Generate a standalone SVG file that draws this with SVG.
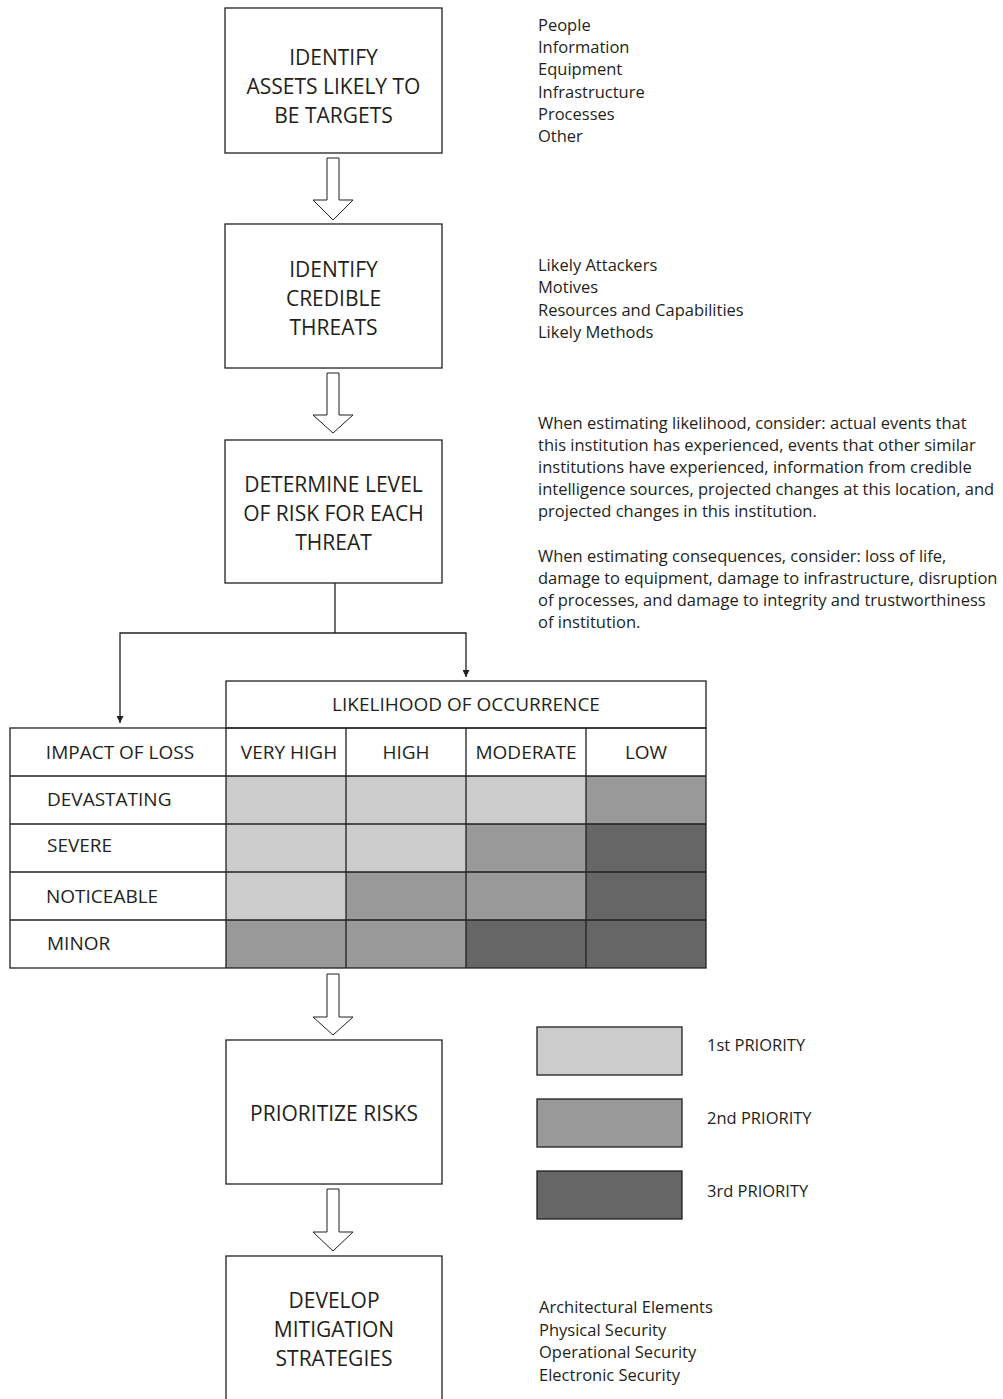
<svg xmlns="http://www.w3.org/2000/svg" width="1003" height="1399" viewBox="0 0 1003 1399">
<style>
  .box { fill: #ffffff; stroke: #231f20; stroke-width: 1.3; }
  .bt { font-family: "Open Sans", "Liberation Sans", sans-serif; font-size: 21px; fill: #231f20; text-anchor: middle; }
  .tt { font-family: "Open Sans", "Liberation Sans", sans-serif; font-size: 19px; fill: #231f20; }
  .ttc { text-anchor: middle; }
  .note { font-family: "Open Sans", "Liberation Sans", sans-serif; font-size: 16.5px; fill: #231f20; }
  .blk { fill: #ffffff; stroke: #231f20; stroke-width: 1; }
  .ln { fill: none; stroke: #231f20; stroke-width: 1.3; }
  .c1 { fill: #cccccc; }
  .c2 { fill: #999999; }
  .c3 { fill: #666666; }
  .grid { stroke: #231f20; stroke-width: 1.3; fill: none; }
</style>
<defs>
  <marker id="ah" viewBox="0 0 10 10" refX="10" refY="5" markerWidth="7" markerHeight="7" markerUnits="userSpaceOnUse" orient="auto">
    <path d="M0,0 L10,5 L0,10 Z" fill="#231f20"/>
  </marker>
</defs>
<rect width="1003" height="1399" fill="#ffffff"/>

<g id="node-identify-assets">
  <rect class="box" x="225" y="8" width="217" height="145"/>
  <text class="bt" x="333.5" y="65">IDENTIFY</text>
  <text class="bt" x="333.5" y="94">ASSETS LIKELY TO</text>
  <text class="bt" x="333.5" y="123">BE TARGETS</text>
</g>
<g id="note-assets">
  <text class="note" x="538" y="31">People</text>
  <text class="note" x="538" y="53">Information</text>
  <text class="note" x="538" y="75">Equipment</text>
  <text class="note" x="538" y="98">Infrastructure</text>
  <text class="note" x="538" y="120">Processes</text>
  <text class="note" x="538" y="142">Other</text>
</g>

<g id="node-identify-threats">
  <rect class="box" x="225" y="224" width="217" height="144"/>
  <text class="bt" x="333.5" y="277">IDENTIFY</text>
  <text class="bt" x="333.5" y="306">CREDIBLE</text>
  <text class="bt" x="333.5" y="335">THREATS</text>
</g>
<g id="note-threats">
  <text class="note" x="538" y="271">Likely Attackers</text>
  <text class="note" x="538" y="293">Motives</text>
  <text class="note" x="538" y="316">Resources and Capabilities</text>
  <text class="note" x="538" y="338">Likely Methods</text>
</g>

<g id="node-determine-risk">
  <rect class="box" x="225" y="440" width="217" height="143"/>
  <text class="bt" x="333.5" y="492">DETERMINE LEVEL</text>
  <text class="bt" x="333.5" y="521">OF RISK FOR EACH</text>
  <text class="bt" x="333.5" y="550">THREAT</text>
</g>
<g id="note-risk">
  <text class="note" x="538" y="429">When estimating likelihood, consider: actual events that</text>
  <text class="note" x="538" y="451">this institution has experienced, events that other similar</text>
  <text class="note" x="538" y="473">institutions have experienced, information from credible</text>
  <text class="note" x="538" y="495">intelligence sources, projected changes at this location, and</text>
  <text class="note" x="538" y="517">projected changes in this institution.</text>
  <text class="note" x="538" y="562">When estimating consequences, consider: loss of life,</text>
  <text class="note" x="538" y="584">damage to equipment, damage to infrastructure, disruption</text>
  <text class="note" x="538" y="606">of processes, and damage to integrity and trustworthiness</text>
  <text class="note" x="538" y="628">of institution.</text>
</g>

<g id="node-risk-matrix">
  <rect class="c1" x="226" y="776" width="120" height="48"/>
  <rect class="c1" x="346" y="776" width="120" height="48"/>
  <rect class="c1" x="466" y="776" width="120" height="48"/>
  <rect class="c2" x="586" y="776" width="120" height="48"/>
  <rect class="c1" x="226" y="824" width="120" height="48"/>
  <rect class="c1" x="346" y="824" width="120" height="48"/>
  <rect class="c2" x="466" y="824" width="120" height="48"/>
  <rect class="c3" x="586" y="824" width="120" height="48"/>
  <rect class="c1" x="226" y="872" width="120" height="48"/>
  <rect class="c2" x="346" y="872" width="120" height="48"/>
  <rect class="c2" x="466" y="872" width="120" height="48"/>
  <rect class="c3" x="586" y="872" width="120" height="48"/>
  <rect class="c2" x="226" y="920" width="120" height="48"/>
  <rect class="c2" x="346" y="920" width="120" height="48"/>
  <rect class="c3" x="466" y="920" width="120" height="48"/>
  <rect class="c3" x="586" y="920" width="120" height="48"/>
  <rect class="grid" x="226" y="681" width="480" height="47"/>
  <rect class="grid" x="10" y="728" width="696" height="240"/>
  <path class="grid" d="M226,728 V968 M346,728 V968 M466,728 V968 M586,728 V968 M10,776 H706 M10,824 H706 M10,872 H706 M10,920 H706"/>
  <text class="tt ttc" x="466" y="711">LIKELIHOOD OF OCCURRENCE</text>
  <text class="tt ttc" x="120" y="759">IMPACT OF LOSS</text>
  <text class="tt ttc" x="289" y="759">VERY HIGH</text>
  <text class="tt ttc" x="406" y="759">HIGH</text>
  <text class="tt ttc" x="526" y="759">MODERATE</text>
  <text class="tt ttc" x="646" y="759">LOW</text>
  <text class="tt" x="47" y="806">DEVASTATING</text>
  <text class="tt" x="47" y="852">SEVERE</text>
  <text class="tt" x="46" y="903">NOTICEABLE</text>
  <text class="tt" x="47" y="950">MINOR</text>
</g>

<g id="node-prioritize">
  <rect class="box" x="226" y="1040" width="216" height="144"/>
  <text class="bt" x="334" y="1121">PRIORITIZE RISKS</text>
</g>
<g id="legend">
  <rect class="c1" x="537" y="1027" width="145" height="48" stroke="#231f20" stroke-width="1.3"/>
  <rect class="c2" x="537" y="1099" width="145" height="48" stroke="#231f20" stroke-width="1.3"/>
  <rect class="c3" x="537" y="1171" width="145" height="48" stroke="#231f20" stroke-width="1.3"/>
  <text class="note" x="707" y="1051">1st PRIORITY</text>
  <text class="note" x="707" y="1124">2nd PRIORITY</text>
  <text class="note" x="707" y="1197">3rd PRIORITY</text>
</g>

<g id="node-mitigation">
  <rect class="box" x="226" y="1256" width="216" height="160"/>
  <text class="bt" x="334" y="1308">DEVELOP</text>
  <text class="bt" x="334" y="1337">MITIGATION</text>
  <text class="bt" x="334" y="1366">STRATEGIES</text>
</g>
<g id="note-mitigation">
  <text class="note" x="539" y="1313">Architectural Elements</text>
  <text class="note" x="539" y="1336">Physical Security</text>
  <text class="note" x="539" y="1358">Operational Security</text>
  <text class="note" x="539" y="1381">Electronic Security</text>
</g>

<g id="connectors">
  <polygon class="blk" points="327,158 339,158 339,200 353,200 333,220 313,200 327,200"/>
  <polygon class="blk" points="327,373 339,373 339,415 353,415 333,433 313,415 327,415"/>
  <polygon class="blk" points="327,974 339,974 339,1017 353,1017 333,1035 313,1017 327,1017"/>
  <polygon class="blk" points="327,1189 339,1189 339,1232 353,1232 333,1251 313,1232 327,1232"/>
  <path class="ln" d="M335,583 V633"/>
  <path class="ln" d="M335,633 H120 V723" marker-end="url(#ah)"/>
  <path class="ln" d="M335,633 H466 V677" marker-end="url(#ah)"/>
</g>
</svg>
